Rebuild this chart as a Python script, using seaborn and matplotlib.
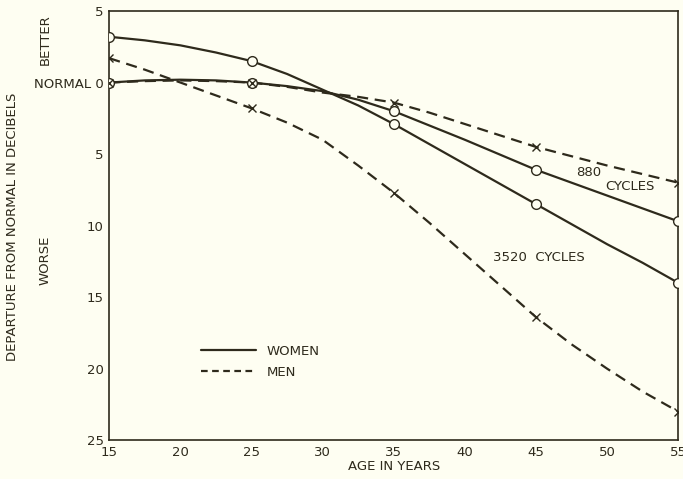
import matplotlib
matplotlib.use("Agg")
import matplotlib.pyplot as plt
from matplotlib.lines import Line2D
import pandas as pd
import seaborn as sns

ages = [15, 17.5, 20, 22.5, 25, 27.5, 30, 32.5, 35, 37.5, 40, 42.5, 45, 47.5, 50, 52.5, 55]
marker_ages = [15, 25, 35, 45, 55]

# departure from normal in dB (positive = worse)
women_880 = [0.0, -0.15, -0.2, -0.15, 0.0, 0.25, 0.6, 1.2, 2.0, 3.0, 4.0, 5.05, 6.1, 7.0, 7.9, 8.8, 9.7]
women_3520 = [-3.2, -2.95, -2.6, -2.1, -1.5, -0.6, 0.5, 1.6, 2.9, 4.3, 5.7, 7.1, 8.5, 9.9, 11.3, 12.6, 14.0]
men_880 = [0.0, -0.1, -0.15, -0.1, 0.0, 0.3, 0.7, 1.0, 1.4, 2.1, 2.9, 3.7, 4.5, 5.15, 5.8, 6.4, 7.0]
men_3520 = [-1.7, -0.9, 0.0, 0.9, 1.8, 2.8, 4.0, 5.8, 7.7, 9.8, 12.0, 14.2, 16.4, 18.3, 20.0, 21.6, 23.0]

ytick_vals = [-5, 0, 5, 10, 15, 20, 25]
ytick_labels = ["5", "NORMAL 0", "5", "10", "15", "20", "25"]
xtick_vals = [15, 20, 25, 30, 35, 40, 45, 50, 55]

bg = "#fefef2"
ink = "#2e2a1c"

sns.set_theme(style="white")
plt.rcParams["font.family"] = ["DejaVu Sans"]

fig = plt.figure(figsize=(6.83, 4.79), dpi=100, facecolor=bg)
ax = fig.add_axes([0.16, 0.081, 0.833, 0.896])
ax.set_facecolor(bg)

series = [
    (women_880, "-", "o"),
    (women_3520, "-", "o"),
    (men_880, (0, (5, 3)), "x"),
    (men_3520, (0, (5, 3)), "x"),
]
for vals, ls, mk in series:
    df = pd.DataFrame({"age": ages, "db": vals})
    sns.lineplot(data=df, x="age", y="db", ax=ax, color=ink, linestyle=ls,
                 linewidth=1.6, zorder=2)
    pts = df[df["age"].isin(marker_ages)]
    if mk == "o":
        ax.plot(pts["age"], pts["db"], linestyle="none", marker="o", markersize=7,
                markerfacecolor=bg, markeredgecolor=ink, markeredgewidth=1.0, zorder=3)
    else:
        ax.plot(pts["age"], pts["db"], linestyle="none", marker="x", markersize=6,
                color=ink, markeredgewidth=1.0, zorder=4)

ax.set_xlim(15, 55)
ax.set_ylim(25, -5)
ax.set_xticks(xtick_vals)
ax.set_yticks(ytick_vals)
ax.set_yticklabels(ytick_labels)
ax.tick_params(direction="in", length=6, width=1, colors=ink, labelsize=9.5,
               labelcolor=ink, pad=4)
for sp in ax.spines.values():
    sp.set_color(ink)
    sp.set_linewidth(1.2)

ax.set_xlabel("AGE IN YEARS", fontsize=9.5, color=ink, labelpad=1)
ax.set_ylabel("")
fig.text(0.019, 0.527, "DEPARTURE FROM NORMAL IN DECIBELS", rotation=90,
         ha="center", va="center", fontsize=9.5, color=ink)
fig.text(0.066, 0.917, "BETTER", rotation=90, ha="center", va="center",
         fontsize=9.5, color=ink)
fig.text(0.066, 0.457, "WORSE", rotation=90, ha="center", va="center",
         fontsize=9.5, color=ink)

ax.text(48.7, 6.3, "880", fontsize=9.5, color=ink, ha="center", va="center")
ax.text(51.6, 7.3, "CYCLES", fontsize=9.5, color=ink, ha="center", va="center")
ax.text(45.2, 12.2, "3520  CYCLES", fontsize=9.5, color=ink, ha="center", va="center")

handles = [Line2D([], [], color=ink, linewidth=1.6, linestyle="-"),
           Line2D([], [], color=ink, linewidth=1.6, linestyle=(0, (3, 2)))]
ax.legend(handles, ["WOMEN", "MEN"], loc="upper left", bbox_to_anchor=(0.14, 0.25),
          frameon=False, handlelength=4.2, fontsize=9.5, labelcolor=ink,
          labelspacing=0.6)

fig.savefig("out.png", dpi=100, facecolor=bg)
